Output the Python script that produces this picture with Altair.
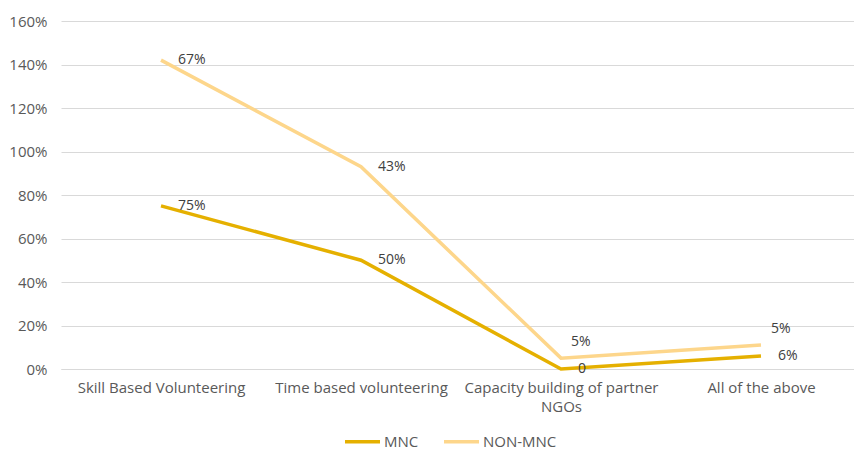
import altair as alt
import pandas as pd

# Programme types and share of companies (stacked line chart)
categories = [
    "Skill Based Volunteering",
    "Time based volunteering",
    "Capacity building of partner NGOs",
    "All of the above",
]
series_names = ["MNC", "NON-MNC"]
mnc_values = [75, 50, 0, 6]
non_mnc_values = [67, 43, 5, 5]
mnc_labels = ["75%", "50%", "0", "6%"]
non_mnc_labels = ["67%", "43%", "5%", "5%"]
series_colors = ["#E5B000", "#FDD68B"]
y_ticks = [0, 20, 40, 60, 80, 100, 120, 140, 160]

rows = []
for i, cat in enumerate(categories):
    rows.append({"category": cat, "idx": i, "series": "MNC", "value": mnc_values[i],
                 "top": mnc_values[i], "label": mnc_labels[i], "order": 0})
    rows.append({"category": cat, "idx": i, "series": "NON-MNC", "value": non_mnc_values[i],
                 "top": mnc_values[i] + non_mnc_values[i], "label": non_mnc_labels[i], "order": 1})
df = pd.DataFrame(rows)

FONT = "Open Sans"
TEXT = "#595959"

# category names shown under each position; the long one wraps onto two lines
label_lookup = "[" + ", ".join(
    "['Capacity building of partner', 'NGOs']" if c == "Capacity building of partner NGOs" else repr(c)
    for c in categories
) + "]"

x_enc = alt.X(
    "idx:Q",
    scale=alt.Scale(domain=[-0.5, 3.465], nice=False, zero=False),
    axis=alt.Axis(
        title=None,
        values=list(range(len(categories))),
        ticks=False,
        grid=False,
        domain=True,
        domainColor="#D9D9D9",
        domainWidth=1,
        labelAngle=0,
        labelPadding=11,
        labelFontSize=15,
        labelColor=TEXT,
        labelFont=FONT,
        labelLineHeight=19,
        labelLimit=400,
        labelBound=False,
        labelOverlap=False,
        labelFlush=False,
        labelExpr=label_lookup + "[datum.value]",
    ),
)
y_enc = alt.Y(
    "top:Q",
    scale=alt.Scale(domain=[0, 160], nice=False),
    axis=alt.Axis(
        title=None,
        values=y_ticks,
        ticks=False,
        domain=False,
        grid=True,
        gridColor="#D9D9D9",
        gridWidth=1,
        labelPadding=14,
        labelFontSize=15,
        labelColor=TEXT,
        labelFont=FONT,
        labelExpr="datum.value + '%'",
    ),
)
color_enc = alt.Color(
    "series:N",
    scale=alt.Scale(domain=series_names, range=series_colors),
    legend=alt.Legend(
        title=None,
        orient="none",
        direction="horizontal",
        legendX=282,
        legendY=401,
        symbolType="stroke",
        symbolSize=1225,
        symbolStrokeWidth=3.5,
        labelFontSize=15,
        labelColor=TEXT,
        labelFont=FONT,
        labelOffset=2,
        columnPadding=18,
    ),
)

base = alt.Chart(df)

lines = base.mark_line(strokeWidth=3.5).encode(
    x=x_enc, y=y_enc, color=color_enc, order="order:Q", detail="series:N"
)

label_style = dict(fontSize=14, font=FONT, color="#404040", baseline="middle", align="left")

right_labels = base.transform_filter(
    "datum.series == 'MNC' || datum.idx < 2"
).mark_text(dx=17, **label_style).encode(x="idx:Q", y="top:Q", text="label:N")

upper_labels = base.transform_filter(
    "datum.series == 'NON-MNC' && datum.idx >= 2"
).mark_text(dx=10, dy=-16, **label_style).encode(x="idx:Q", y="top:Q", text="label:N")

chart = (
    alt.layer(lines, right_labels, upper_labels)
    .properties(
        width=793,
        height=348,
        autosize=alt.AutoSizeParams(type="none"),
        padding={"left": 61, "top": 21, "right": 0, "bottom": 81},
        background="white",
    )
    .configure_view(stroke=None)
)

chart.save("out.html", embed_options={"renderer": "svg", "actions": False})
